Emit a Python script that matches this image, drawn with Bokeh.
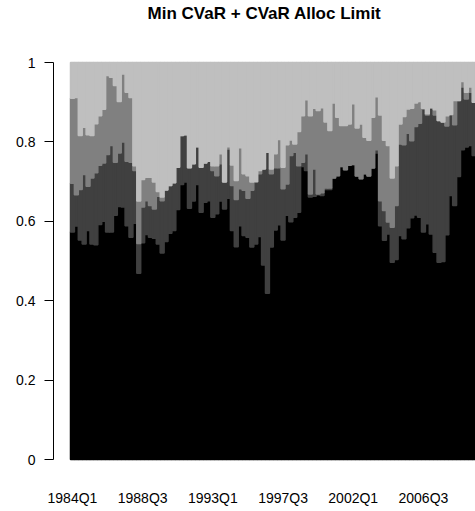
from bokeh.plotting import figure
from bokeh.models import ColumnDataSource, FixedTicker, Range1d, Label
from bokeh.embed import file_html
from bokeh.resources import INLINE

# Quarterly periods 1984Q1 .. 2009Q4
years = list(range(1984, 2010))
quarters = [f"{y}Q{q}" for y in years for q in (1, 2, 3, 4)]

# Cumulative allocation levels, bottom to top
cum_asset1 = [0.573,0.588,0.553,0.543,0.577,0.543,0.541,0.592,0.600,0.573,0.573,0.615,0.637,0.636,0.589,0.560,0.595,0.469,0.546,0.567,
              0.560,0.557,0.543,0.520,0.549,0.570,0.577,0.630,0.693,0.699,0.633,0.651,0.693,0.623,0.648,0.652,0.610,0.619,0.651,0.631,0.658,
              0.577,0.536,0.589,0.564,0.560,0.535,0.543,0.562,0.490,0.419,0.535,0.578,0.591,0.553,0.615,0.599,0.610,0.623,0.738,0.728,0.661,
              0.663,0.667,0.665,0.680,0.680,0.709,0.715,0.738,0.730,0.741,0.743,0.714,0.707,0.720,0.714,0.734,0.772,0.589,0.552,0.568,0.497,
              0.504,0.564,0.556,0.584,0.609,0.616,0.610,0.573,0.594,0.568,0.522,0.497,0.499,0.566,0.665,0.640,0.713,0.780,0.787,0.791,0.766]
cum_asset2 = [0.696,0.667,0.680,0.718,0.688,0.709,0.722,0.741,0.747,0.768,0.791,0.749,0.772,0.800,0.751,0.749,0.728,0.544,0.636,0.652,
              0.640,0.631,0.663,0.652,0.679,0.690,0.697,0.736,0.816,0.818,0.735,0.745,0.788,0.736,0.747,0.751,0.728,0.715,0.745,0.699,0.782,
              0.690,0.655,0.682,0.678,0.658,0.678,0.699,0.720,0.732,0.774,0.720,0.735,0.735,0.682,0.694,0.766,0.774,0.740,0.749,0.770,0.669,
              0.732,0.669,0.672,0.684,0.684,0.709,0.715,0.738,0.730,0.741,0.743,0.714,0.707,0.720,0.714,0.734,0.780,0.652,0.627,0.598,0.585,
              0.640,0.795,0.793,0.822,0.803,0.839,0.847,0.883,0.868,0.886,0.868,0.854,0.850,0.840,0.869,0.843,0.904,0.938,0.908,0.925,0.900]
cum_asset3 = [0.910,0.912,0.816,0.837,0.818,0.816,0.846,0.866,0.882,0.967,0.963,0.942,0.902,0.971,0.925,0.912,0.740,0.651,0.705,0.711,
              0.711,0.699,0.675,0.661,0.679,0.690,0.697,0.736,0.816,0.818,0.735,0.745,0.788,0.736,0.747,0.751,0.740,0.740,0.770,0.699,0.788,
              0.742,0.703,0.785,0.720,0.715,0.699,0.700,0.728,0.732,0.774,0.732,0.770,0.806,0.736,0.793,0.805,0.795,0.826,0.866,0.906,0.866,
              0.885,0.879,0.886,0.850,0.829,0.898,0.862,0.841,0.841,0.845,0.896,0.835,0.845,0.812,0.804,0.862,0.914,0.868,0.804,0.791,0.709,
              0.740,0.845,0.864,0.883,0.885,0.898,0.902,0.885,0.871,0.886,0.881,0.854,0.850,0.866,0.869,0.904,0.904,0.952,0.925,0.938,0.900]
cum_asset4 = [1.0] * len(quarters)
zero_level = [0.0] * len(quarters)

tick_labels = ["1984Q1", "1988Q3", "1993Q1", "1997Q3", "2002Q1", "2006Q3"]
y_ticks = [0, 0.2, 0.4, 0.6, 0.8, 1]
y_tick_labels = ["0", "0.2", "0.4", "0.6", "0.8", "1"]
title_text = "Min CVaR + CVaR Alloc Limit"

layer_colors = ["#000000", "#404040", "#808080", "#bfbfbf"]

FONT = "Liberation Sans"
W, H = 475, 511
B_LEFT, B_BOTTOM = 53, 36
PX_PER_UNIT = 397.0          # vertical pixels per unit of allocation
TOP_GAP = 62.0               # pixels from page top to the level 1.0
TITLE_Y = 13.0               # title centre, pixels from page top

x_lo, x_hi = -4.36, 103.85
y_lo, y_hi = -0.0403, 1.0 + TOP_GAP / PX_PER_UNIT

source = ColumnDataSource(dict(
    x=[i + 0.5 for i in range(len(quarters))],
    z=zero_level, a1=cum_asset1, a2=cum_asset2, a3=cum_asset3, a4=cum_asset4,
))

p = figure(width=W, height=H, output_backend="svg", toolbar_location=None,
           x_range=Range1d(x_lo, x_hi), y_range=Range1d(y_lo, y_hi),
           min_border_left=B_LEFT, min_border_right=0, min_border_top=0,
           min_border_bottom=B_BOTTOM)

levels = ["z", "a1", "a2", "a3", "a4"]
for k in range(4):
    p.vbar(x="x", width=1.0, bottom=levels[k], top=levels[k + 1], source=source,
           fill_color=layer_colors[k], line_color=layer_colors[k], line_width=1.5)

# title, centred over the plotting region, in the space above level 1.0
p.add_layout(Label(x=(x_lo + x_hi) / 2, y=1.0 + (TOP_GAP - TITLE_Y) / PX_PER_UNIT,
                   text=title_text, text_font=FONT, text_font_style="bold",
                   text_font_size="17px", text_color="#000000",
                   text_align="center", text_baseline="middle"))

p.grid.visible = False
p.outline_line_color = None
p.background_fill_color = "white"
p.border_fill_color = "white"

# x axis: labels only
p.xaxis.ticker = FixedTicker(ticks=[quarters.index(t) + 0.5 for t in tick_labels])
p.xaxis.major_label_overrides = {quarters.index(t) + 0.5: t for t in tick_labels}
p.xaxis.axis_line_color = None
p.xaxis.major_tick_line_color = None
p.xaxis.minor_tick_line_color = None
p.xaxis.major_tick_out = 0
p.xaxis.major_tick_in = 0
p.xaxis.major_label_standoff = 14
p.xaxis.major_label_text_font = FONT
p.xaxis.major_label_text_font_size = "14px"
p.xaxis.major_label_text_color = "#000000"

# y axis
p.yaxis.ticker = FixedTicker(ticks=y_ticks)
p.yaxis.major_label_overrides = {t: l for t, l in zip(y_ticks, y_tick_labels)}
p.yaxis.bounds = (0, 1)
p.yaxis.axis_line_color = "#000000"
p.yaxis.major_tick_line_color = "#000000"
p.yaxis.minor_tick_line_color = None
p.yaxis.major_tick_out = 9
p.yaxis.major_tick_in = 0
p.yaxis.major_label_standoff = 9
p.yaxis.major_label_orientation = "horizontal"
p.yaxis.major_label_text_font = FONT
p.yaxis.major_label_text_font_size = "14px"
p.yaxis.major_label_text_color = "#000000"

open("out.html", "w").write(file_html(p, INLINE))
